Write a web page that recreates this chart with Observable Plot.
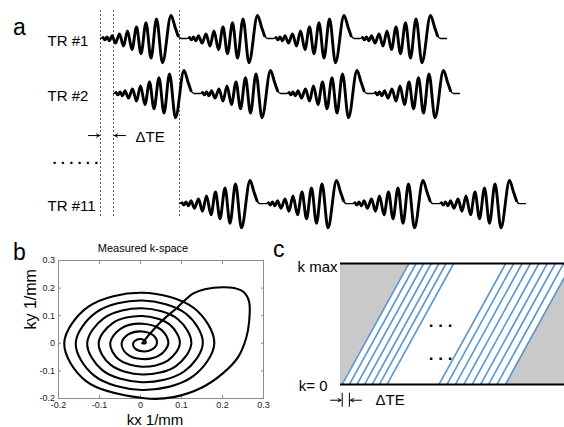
<!DOCTYPE html>
<html>
<head>
<meta charset="utf-8">
<script src="https://cdn.jsdelivr.net/npm/d3@7"></script>
<script src="https://cdn.jsdelivr.net/npm/@observablehq/plot@0.6"></script>
<style>
html, body { margin: 0; padding: 0; background: #fff; }
#fig { position: relative; width: 564px; height: 427px; overflow: hidden; font-family: "Liberation Sans", Arial, sans-serif; }
#fig > svg, #fig > div { position: absolute; }
.plab { font-size: 23px; line-height: 1; color: #000; }
</style>
</head>
<body>
<div id="fig"></div>
<script>
// ---------------- Panel a data ----------------
// one spiral readout gradient waveform (time in samples, amplitude normalised to final lobe)
const readoutT   = [0, 2.5, 4.5, 6.5, 9, 11.5, 15, 19, 23, 27, 31.5, 36, 40.5, 45.5, 50.5, 56, 62, 70.5, 74.5, 77.5, 80.5, 86.5];
const readoutAmp = [0, 0.04, -0.06, 0.07, -0.1, 0.12, -0.2, 0.2, -0.33, 0.33, -0.48, 0.5, -0.66, 0.68, -0.85, 0.85, -1.05, 1.0, 0.5, 0.12, 0, 0];
const readoutLength = 86.5;
const readoutsPerTR = 4;
const trLabels = ["TR #1", "TR #2", "TR #11"];
const trDelays = [0, 13, 79];
const trRows   = [0, 1, 3];

// ---------------- Panel b data ----------------
const spiralKx = [0.004,
  0.012, 0.0121, 0.004, -0.0091, -0.018, -0.014, 0.004, 0.027,
  0.040, 0.0319, 0.004, -0.0289, -0.046, -0.0338, 0.004, 0.0468,
  0.068, 0.0517, 0.004, -0.0487, -0.074, -0.0536, 0.004, 0.0666,
  0.096, 0.0715, 0.004, -0.0685, -0.102, -0.0734, 0.004, 0.0864,
  0.124, 0.0913, 0.004, -0.0883, -0.130, -0.0932, 0.004, 0.1062,
  0.152, 0.1111, 0.004, -0.1081, -0.158, -0.113, 0.004, 0.126,
  0.180, 0.1309, 0.004, -0.1279, -0.186, -0.1328,
  0.01, 0.08, 0.15, 0.2, 0.238, 0.258, 0.265, 0.265, 0.252, 0.228, 0.2, 0.16, 0.128, 0.09, 0.048, 0.007];
const spiralKy = [0,
  0, 0.0081, 0.015, 0.0131, 0, -0.018, -0.029, -0.023,
  0, 0.0279, 0.043, 0.0329, 0, -0.0378, -0.057, -0.0428,
  0, 0.0477, 0.071, 0.0527, 0, -0.0576, -0.085, -0.0626,
  0, 0.0675, 0.099, 0.0725, 0, -0.0774, -0.113, -0.0824,
  0, 0.0873, 0.127, 0.0923, 0, -0.0972, -0.141, -0.1022,
  0, 0.1071, 0.155, 0.1121, 0, -0.117, -0.169, -0.122,
  0, 0.1269, 0.183, 0.1319, 0, -0.1368,
  -0.199, -0.195, -0.16, -0.11, -0.05, 0.02, 0.08, 0.15, 0.185, 0.2, 0.203, 0.197, 0.18, 0.13, 0.075, 0.006];
const kTicks = [-0.2, -0.1, 0, 0.1, 0.2, 0.3];

// ---------------- Panel c data (time in units of ΔTE) ----------------
const leftGroupStarts  = [0, 0.9, 1.85, 2.8, 3.75, 4.65, 5.6];
const rightGroupStarts = [12.1, 13.1, 14.15, 15.2, 16.25, 17.3, 18.3, 19.35, 20.4];
const readoutDuration = 8.34;
const kLevels = [0, 1];
const kLevelLabels = ["k= 0", "k max"];

// ---------------- build ----------------
const FONT = '"Liberation Sans", Arial, Helvetica, sans-serif';
const fig = document.getElementById("fig");
const baseStyle = {background: "transparent", overflow: "visible", fontFamily: FONT, color: "#000"};

// Panel a
const waveAmplitude = 0.42;
const waveData = [];
trLabels.forEach((label, i) => {
  for (let k = 0; k < readoutsPerTR; k++) {
    readoutT.forEach((t, j) => {
      if (k > 0 && j === 0) return;
      waveData.push({tr: label, seg: label + "-" + k, j, t: trDelays[i] + k * readoutLength + t, v: trRows[i] - waveAmplitude * readoutAmp[j]});
    });
  }
});
const waveCore = waveData.filter(d => d.j >= 1 && d.j <= 19);
const rowData = trLabels.map((label, i) => ({label, row: trRows[i]}));
const dteRow = 1.764;

const plotA = Plot.plot({
  width: 564, height: 235, margin: 0,
  style: baseStyle,
  x: {domain: [-100, 464], axis: null},
  y: {domain: [3.58, -0.69], axis: null},
  marks: [
    Plot.ruleX(trDelays, {x: d => d, insetTop: 10, insetBottom: 17, stroke: "#333", strokeWidth: 0.8, strokeDasharray: "2,2"}),
    Plot.line(waveData, {x: "t", y: "v", z: "tr", curve: "monotone-x", stroke: "#000", strokeWidth: 1.4}),
    Plot.line(waveCore, {x: "t", y: "v", z: "seg", curve: "monotone-x", stroke: "#000", strokeWidth: 2.9, strokeLinecap: "round"}),
    Plot.text(rowData, {y: "row", text: "label", frameAnchor: "left", dx: 47, dy: 3, textAnchor: "start", fontSize: 15}),
    Plot.arrow([{x1: trDelays[0] - 12, x2: trDelays[0] - 1}, {x1: trDelays[1] + 12, x2: trDelays[1] + 1}],
      {x1: "x1", x2: "x2", y: dteRow, headLength: 5, strokeWidth: 1, stroke: "#000"}),
    Plot.text(["ΔTE"], {x: trDelays[1] + 22, y: dteRow + 0.03, text: d => d, textAnchor: "start", fontSize: 15}),
    Plot.text([". . . . . ."], {frameAnchor: "top-left", dx: 52, dy: 159, lineAnchor: "middle", textAnchor: "start", text: d => d, fontSize: 15, fontWeight: "bold"})
  ]
});
plotA.style.left = "0px"; plotA.style.top = "0px";
fig.appendChild(plotA);

// Panel b
const spiral = spiralKx.map((x, i) => ({kx: x, ky: spiralKy[i]}));
const fmt = d => String(+d.toFixed(1));
const plotB = Plot.plot({
  width: 290, height: 192,
  marginLeft: 58, marginRight: 27, marginTop: 25, marginBottom: 29,
  style: baseStyle,
  x: {domain: [-0.2, 0.3]},
  y: {domain: [-0.2, 0.3]},
  marks: [
    Plot.frame({stroke: "#8c8c8c"}),
    Plot.axisX(kTicks, {anchor: "bottom", tickSize: -3, tickPadding: 6.5, tickFormat: fmt, fontSize: 9, stroke: "#8c8c8c", fill: "#222", label: null}),
    Plot.axisX(kTicks, {anchor: "top", tickSize: -3, tickFormat: () => "", stroke: "#8c8c8c", label: null}),
    Plot.axisY(kTicks, {anchor: "left", tickSize: -3, tickPadding: 6.5, tickFormat: fmt, fontSize: 9, stroke: "#8c8c8c", fill: "#222", label: null}),
    Plot.axisY(kTicks, {anchor: "right", tickSize: -3, tickFormat: () => "", stroke: "#8c8c8c", label: null}),
    Plot.line(spiral, {x: "kx", y: "ky", curve: "catmull-rom", stroke: "#000", strokeWidth: 2.1}),
    Plot.text(["Measured k-space"], {frameAnchor: "top", dx: -18, dy: -12, lineAnchor: "middle", text: d => d, fontSize: 11}),
    Plot.text(["ky 1/mm"], {frameAnchor: "left", dx: -28, rotate: -90, lineAnchor: "middle", text: d => d, fontSize: 16}),
    Plot.text(["kx 1/mm"], {frameAnchor: "bottom", dx: -6, dy: 21.5, lineAnchor: "middle", text: d => d, fontSize: 15})
  ]
});
plotB.style.left = "0px"; plotB.style.top = "235px";
fig.appendChild(plotB);

// Panel c
const allStarts = leftGroupStarts.concat(rightGroupStarts);
const lastStart = rightGroupStarts[rightGroupStarts.length - 1];
const xDomC = [-0.21, 27.79];
const plotC = Plot.plot({
  width: 284, height: 192,
  marginLeft: 60, marginRight: 0, marginTop: 28, marginBottom: 43,
  style: baseStyle,
  x: {domain: xDomC, axis: null},
  y: {domain: [0, 1], axis: null},
  marks: [
    Plot.areaX(kLevels, {y: d => d, x1: xDomC[0], x2: d => leftGroupStarts[0] + readoutDuration * d, fill: "#c9c9c9", clip: true}),
    Plot.areaX(kLevels, {y: d => d, x1: d => lastStart + readoutDuration * d, x2: 40, fill: "#c9c9c9", clip: true}),
    Plot.link(allStarts, {x1: d => d, y1: 0, x2: d => d + readoutDuration, y2: 1, stroke: "#5b95d0", strokeWidth: 1.6, clip: true}),
    Plot.ruleY(kLevels, {y: d => d, stroke: "#000", strokeWidth: 2}),
    Plot.text([kLevels[1]], {y: d => d, text: () => kLevelLabels[1], frameAnchor: "left", dx: -3, dy: 4, textAnchor: "end", fontSize: 15}),
    Plot.text([kLevels[0]], {y: d => d, text: () => kLevelLabels[0], frameAnchor: "left", dx: -13, dy: 2, textAnchor: "end", fontSize: 15}),
    Plot.text([0.52, 0.25], {x: 12.3, y: d => d, text: () => ". . .", fontSize: 17, fontWeight: "bold"}),
    Plot.ruleX([leftGroupStarts[0], leftGroupStarts[1]], {x: d => d, y1: -0.072, y2: -0.188, stroke: "#000", strokeWidth: 1}),
    Plot.arrow([{x1: leftGroupStarts[0] - 1.45, x2: leftGroupStarts[0] - 0.15}, {x1: leftGroupStarts[1] + 1.5, x2: leftGroupStarts[1] + 0.15}],
      {x1: "x1", x2: "x2", y: -0.13, headLength: 5, strokeWidth: 1, stroke: "#000"}),
    Plot.text(["ΔTE"], {x: 4.16, y: -0.13, text: d => d, textAnchor: "start", fontSize: 15})
  ]
});
plotC.style.left = "280px"; plotC.style.top = "235px";
fig.appendChild(plotC);

// Panel letters
[["a", 13, 16], ["b", 13, 241], ["c", 273, 238]].forEach(([t, x, y]) => {
  const d = document.createElement("div");
  d.className = "plab"; d.textContent = t;
  d.style.left = x + "px"; d.style.top = y + "px";
  fig.appendChild(d);
});
</script>
</body>
</html>
